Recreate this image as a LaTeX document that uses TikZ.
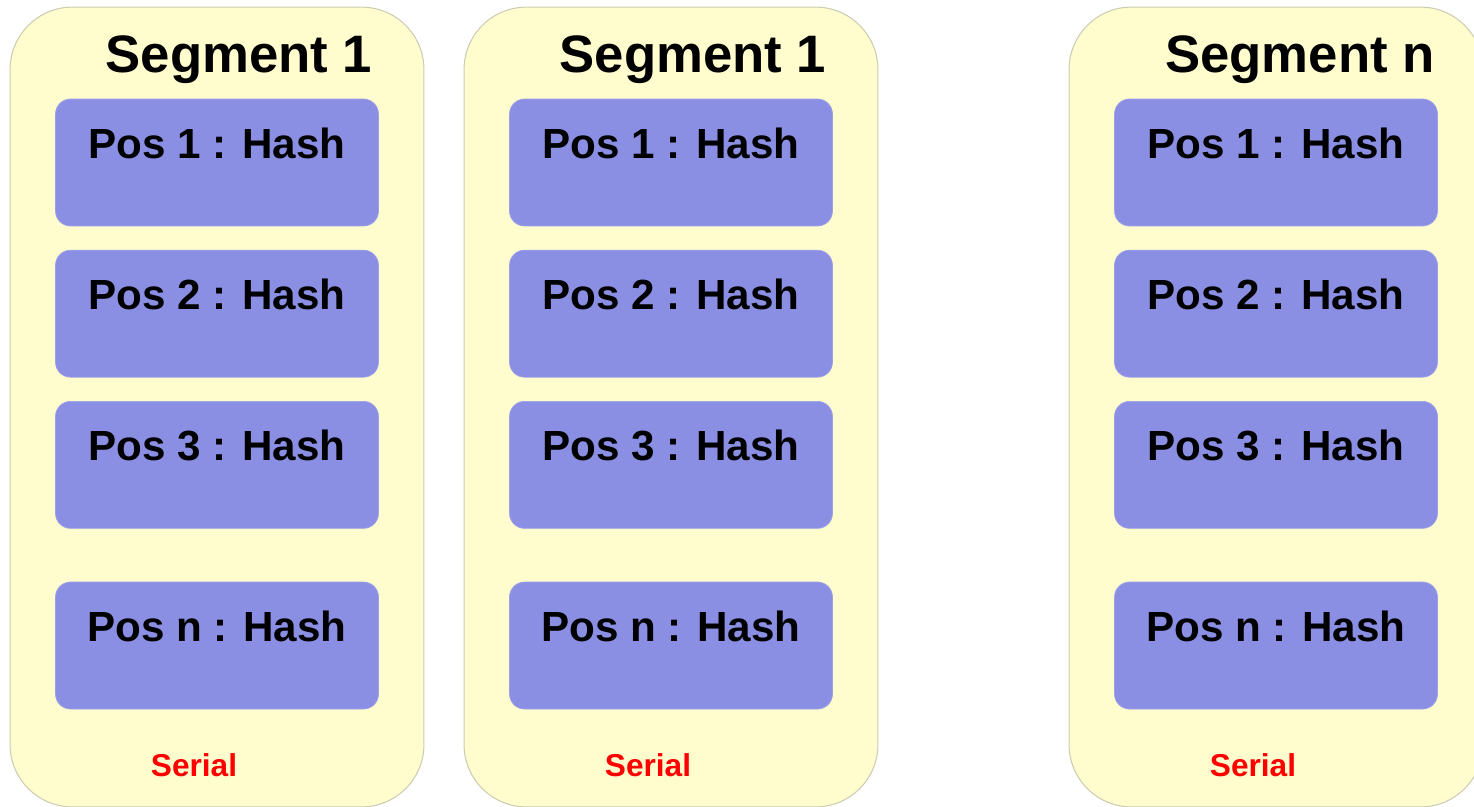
\documentclass[tikz,border=0pt]{standalone}
\usepackage{fontspec}
\setmainfont{Liberation Sans}
\usetikzlibrary{positioning}
\definecolor{segyellow}{RGB}{255,253,206}
\definecolor{segborder}{RGB}{204,204,178}
\definecolor{posblue}{RGB}{138,143,228}
\tikzset{
  segment/.style={rectangle, rounded corners=1.25cm, minimum width=8.28cm, minimum height=16cm, draw=segborder, fill=segyellow, line width=0.6pt},
  segtitle/.style={anchor=base, font=\fontsize{30}{36}\selectfont\bfseries},
  posbox/.style={rectangle, rounded corners=0.3cm, minimum width=6.46cm, inner ysep=0pt, text height=1.18cm, text depth=1.36cm, draw=posblue!85!white, fill=posblue, line width=0.4pt, font=\fontsize{24}{28}\selectfont\bfseries},
  serial/.style={anchor=base, text=red, font=\fontsize{18}{22}\selectfont\bfseries}
}
\begin{document}
\begin{tikzpicture}[x=0.02cm, y=-0.02cm, node distance=0.47cm]
            \useasboundingbox (0,0) rectangle (1474,806);
            % segment containers
            \node (seg1) [segment] at (217,407) {};
            \node (seg2) [segment] at (671,407) {};
            \node (segn) [segment] at (1276,407) {};

            \node (title1) [segtitle] at (239,72) {Segment 1};
            \node (title2) [segtitle] at (693,72) {Segment 1};
            \node (titlen) [segtitle] at (1300,72) {Segment n};

            % first segment
            \node (seg1pos1) [posbox] at (217,162.5) {Pos 1 : Hash};
            \node (seg1pos2) [posbox, below=of seg1pos1] {Pos 2 : Hash};
            \node (seg1pos3) [posbox, below=of seg1pos2] {Pos 3 : Hash};
            \node (seg1posn) [posbox, below=1.06cm of seg1pos3] {Pos n : Hash};

            % second segment
            \node (seg2pos1) [posbox] at (671,162.5) {Pos 1 : Hash};
            \node (seg2pos2) [posbox, below=of seg2pos1] {Pos 2 : Hash};
            \node (seg2pos3) [posbox, below=of seg2pos2] {Pos 3 : Hash};
            \node (seg2posn) [posbox, below=1.06cm of seg2pos3] {Pos n : Hash};

            % last segment
            \node (segnpos1) [posbox] at (1276,162.5) {Pos 1 : Hash};
            \node (segnpos2) [posbox, below=of segnpos1] {Pos 2 : Hash};
            \node (segnpos3) [posbox, below=of segnpos2] {Pos 3 : Hash};
            \node (segnposn) [posbox, below=1.06cm of segnpos3] {Pos n : Hash};

            \node (serial1) [serial] at (194,776) {Serial};
            \node (serial2) [serial] at (648,776) {Serial};
            \node (serialn) [serial] at (1253,776) {Serial};
        \end{tikzpicture}
\end{document}
